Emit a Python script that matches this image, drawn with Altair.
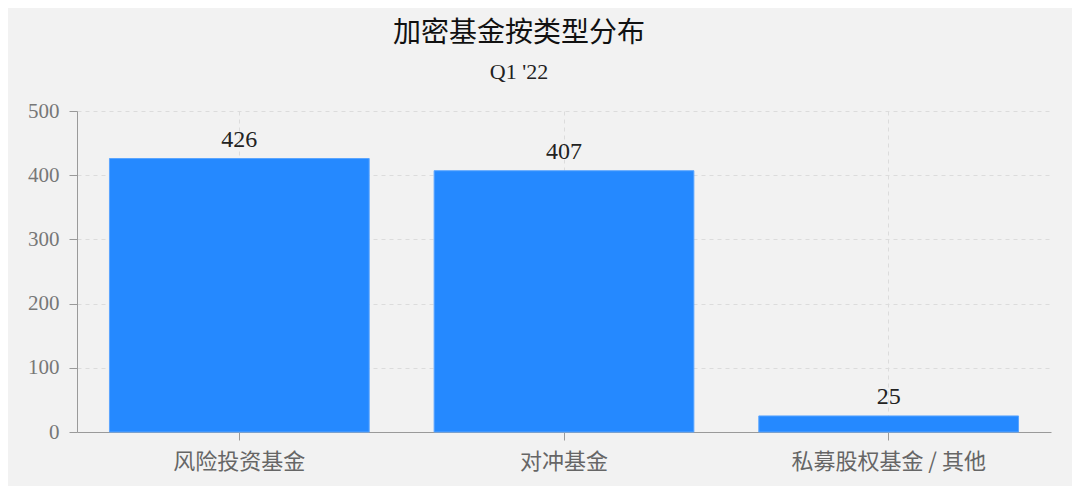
import altair as alt
import pandas as pd

categories = ["风险投资基金", "对冲基金", "私募股权基金 / 其他"]
counts = [426, 407, 25]
y_ticks = [0, 100, 200, 300, 400, 500]

df = pd.DataFrame({"类型": categories, "数量": counts})

base = alt.Chart(df).encode(
    x=alt.X(
        "类型:N",
        sort=categories,
        title=None,
        scale=alt.Scale(paddingInner=0.2, paddingOuter=0.1),
        axis=alt.Axis(
            labelAngle=0,
            labelFont="Noto Sans CJK SC",
            labelFontSize=22,
            labelColor="#666666",
            labelPadding=11,
            labelLimit=500,
            tickSize=8,
            tickColor="#9a9a9a",
            domainColor="#9a9a9a",
            grid=True,
            gridColor="#dcdcdc",
            gridDash=[4, 4],
        ),
    ),
    y=alt.Y(
        "数量:Q",
        title=None,
        scale=alt.Scale(domain=[0, 500], nice=False),
        axis=alt.Axis(
            values=y_ticks,
            labelFont="Liberation Serif",
            labelFontSize=21,
            labelColor="#777777",
            labelPadding=10,
            tickSize=8,
            tickColor="#9a9a9a",
            domainColor="#9a9a9a",
            grid=True,
            gridColor="#dcdcdc",
            gridDash=[4, 4],
        ),
    ),
)

bars = base.mark_bar(color="#2589FF", stroke="#5aa5ff", strokeWidth=1)
labels = base.mark_text(
    baseline="bottom",
    dy=-7,
    font="Liberation Serif",
    fontSize=24,
    color="#222222",
).encode(text="数量:Q")

chart = (
    alt.layer(bars, labels)
    .properties(
        width=974,
        height=321,
        background="#f2f2f2",
        autosize=alt.AutoSizeParams(type="none"),
        padding={"left": 69, "top": 103, "right": 21, "bottom": 54},
        title=alt.TitleParams(
            text="加密基金按类型分布",
            subtitle="Q1 '22",
            anchor="middle",
            dx=-45,
            font="Noto Sans CJK SC",
            fontSize=28,
            fontWeight="normal",
            color="#111111",
            subtitleFont="Liberation Serif",
            subtitleFontSize=22,
            subtitleColor="#222222",
            subtitlePadding=14,
            offset=17,
        ),
    )
    .configure_view(stroke=None)
)

chart.save("out.html", embed_options={"renderer": "svg", "actions": False})
